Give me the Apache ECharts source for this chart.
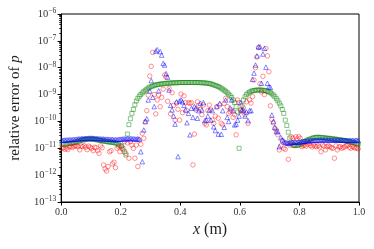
<!DOCTYPE html>
<html><head><meta charset="utf-8">
<script src="https://cdn.jsdelivr.net/npm/echarts@6/dist/echarts.min.js"></script>
<style>html,body{margin:0;padding:0;background:#fff}#c{width:374px;height:249px}</style>
</head><body><div id="c"></div>
<script>
// Cell-centre grid: 200 cells on [0, 1]
const nCells = 200;
const xTicks = [0.0, 0.2, 0.4, 0.6, 0.8, 1.0];
const yDecades = [-13, -12, -11, -10, -9, -8, -7, -6];

// Values, stored as log10(relative error)
const greenLog10 = [
-10.85,-10.85,-10.85,-10.84,-10.83,-10.82,-10.81,-10.80,-10.79,-10.78,
-10.76,-10.74,-10.72,-10.70,-10.69,-10.68,-10.67,-10.66,-10.66,-10.66,
-10.66,-10.66,-10.67,-10.68,-10.69,-10.70,-10.71,-10.72,-10.73,-10.74,
-10.75,-10.76,-10.77,-10.77,-10.78,-10.79,-10.80,-10.82,-10.85,-10.90,
-10.92,-11.00,-11.13,-11.25,-10.47,-10.12,-9.90,-9.70,-9.55,-9.38,
-9.24,-9.14,-9.06,-9.00,-8.94,-8.89,-8.84,-8.80,-8.76,-8.73,
-8.70,-8.68,-8.66,-8.64,-8.63,-8.62,-8.61,-8.60,-8.60,-8.59,
-8.58,-8.58,-8.57,-8.57,-8.57,-8.56,-8.56,-8.56,-8.56,-8.55,
-8.55,-8.55,-8.55,-8.55,-8.55,-8.55,-8.55,-8.55,-8.55,-8.55,
-8.55,-8.55,-8.55,-8.56,-8.56,-8.56,-8.57,-8.57,-8.58,-8.59,
-8.60,-8.62,-8.64,-8.66,-8.68,-8.70,-8.73,-8.76,-8.80,-8.84,
-8.88,-8.93,-8.98,-9.04,-9.11,-9.20,-9.30,-9.45,-9.65,-11.00,
-9.60,-9.40,-9.20,-9.08,-9.00,-8.95,-8.91,-8.88,-8.86,-8.85,
-8.84,-8.83,-8.83,-8.83,-8.83,-8.84,-8.85,-8.86,-8.88,-8.90,
-8.93,-8.97,-9.02,-9.08,-9.15,-9.23,-9.32,-9.42,-9.55,-9.70,
-9.95,-10.15,-10.40,-10.62,-10.80,-10.88,-10.90,-10.90,-10.89,-10.88,
-10.86,-10.83,-10.79,-10.75,-10.72,-10.69,-10.67,-10.65,-10.63,-10.61,
-10.60,-10.59,-10.59,-10.59,-10.60,-10.60,-10.61,-10.62,-10.62,-10.63,
-10.63,-10.64,-10.65,-10.66,-10.66,-10.67,-10.68,-10.69,-10.70,-10.71,
-10.72,-10.73,-10.74,-10.76,-10.77,-10.78,-10.80,-10.81,-10.83,-10.84
];

const redLog10 = [
-11.00,-10.98,-11.04,-11.00,-11.05,-10.95,-10.92,-10.97,-10.93,-10.91,
-10.91,-10.94,-11.06,-10.92,-10.94,-10.90,-10.96,-11.05,-10.92,-10.96,
-11.00,-11.09,-10.96,-10.98,-11.09,-11.19,-10.91,-10.98,-11.62,-11.77,
-11.85,-11.68,-11.13,-11.09,-11.58,-11.52,-11.72,-11.00,-10.94,-11.13,
-10.94,-11.05,-10.75,-11.19,-10.80,-11.37,-10.75,-10.88,-11.00,-11.37,
-10.88,-11.68,-10.69,-10.85,-10.44,-10.63,-10.02,-9.60,-9.02,-8.31,
-7.95,-7.43,-9.00,-9.72,-9.20,-9.02,-9.45,-9.10,-8.80,-8.27,
-8.35,-9.25,-8.77,-9.72,-8.93,-9.40,-9.95,-9.32,-9.55,-9.95,
-8.98,-9.67,-9.05,-9.30,-9.60,-9.30,-9.33,-9.30,-11.62,-10.47,
-9.57,-9.27,-9.40,-9.55,-9.75,-9.39,-10.07,-10.13,-9.60,-9.39,
-9.57,-9.95,-10.07,-9.80,-9.45,-9.88,-9.39,-10.07,-10.13,-9.33,
-9.14,-9.45,-9.70,-9.64,-9.57,-9.85,-9.75,-10.50,-9.20,-9.30,
-9.57,-9.64,-9.50,-9.75,-9.27,-10.07,-9.20,-9.32,-9.08,-8.46,
-8.00,-7.60,-7.25,-8.60,-8.90,-8.32,-9.00,-7.28,-7.56,-8.15,
-9.42,-9.92,-10.05,-10.26,-10.32,-10.50,-11.06,-10.91,-10.70,-11.00,
-11.04,-10.81,-11.41,-10.88,-10.57,-10.62,-10.88,-10.57,-10.65,-10.57,
-10.63,-10.94,-10.90,-10.88,-10.92,-10.85,-10.81,-10.90,-10.95,-10.88,
-10.92,-10.94,-10.90,-10.95,-11.13,-10.88,-10.92,-11.06,-10.94,-10.90,
-10.94,-10.98,-11.00,-11.37,-10.91,-11.06,-10.95,-10.94,-11.00,-10.97,
-10.94,-10.90,-10.88,-10.96,-11.00,-10.93,-10.96,-11.00,-10.98,-11.02
];

const blueLog10 = [
-10.70,-10.70,-10.69,-10.69,-10.69,-10.68,-10.68,-10.68,-10.67,-10.67,
-10.66,-10.65,-10.65,-10.64,-10.64,-10.63,-10.63,-10.63,-10.62,-10.62,
-10.62,-10.62,-10.63,-10.63,-10.64,-10.64,-10.65,-10.65,-10.65,-10.66,
-10.66,-10.66,-10.67,-10.67,-10.67,-10.68,-10.68,-10.68,-10.67,-10.66,
-10.66,-10.65,-10.65,-10.65,-10.64,-10.64,-10.64,-10.64,-10.65,-10.65,
-10.66,-10.64,-10.66,-11.13,-11.50,-10.32,-10.00,-9.90,-9.20,-8.87,
-8.48,-9.10,-9.45,-7.38,-7.33,-8.86,-7.40,-7.53,-7.84,-7.90,
-8.22,-8.35,-8.83,-9.40,-9.57,-9.80,-10.10,-9.27,-11.31,-9.24,
-9.20,-9.27,-9.40,-9.57,-10.05,-9.70,-10.50,-9.51,-9.85,-9.45,
-9.50,-9.88,-9.60,-9.32,-9.57,-9.30,-9.97,-9.95,-9.80,-9.57,
-9.95,-9.60,-10.20,-10.34,-9.45,-10.47,-9.33,-10.48,-9.60,-10.22,
-9.20,-9.85,-10.00,-9.50,-9.20,-9.60,-10.13,-10.10,-9.95,-9.80,
-9.30,-9.57,-9.57,-9.80,-9.65,-9.97,-9.60,-9.60,-8.43,-8.20,
-7.90,-7.56,-7.22,-7.22,-8.58,-7.49,-7.28,-7.98,-8.58,-8.71,
-8.73,-9.76,-10.00,-10.22,-10.38,-10.38,-10.94,-10.60,-10.69,-10.75,
-10.78,-10.80,-10.81,-10.80,-10.79,-10.78,-10.77,-10.77,-10.78,-10.78,
-10.76,-10.75,-10.74,-10.74,-10.73,-10.72,-10.72,-10.71,-10.71,-10.70,
-10.70,-10.70,-10.70,-10.69,-10.69,-10.69,-10.69,-10.69,-10.69,-10.69,
-10.69,-10.69,-10.70,-10.69,-10.70,-10.69,-10.70,-10.70,-10.69,-10.70,
-10.70,-10.70,-10.71,-10.70,-10.71,-10.70,-10.71,-10.71,-10.70,-10.71
];

function toPoints(logs) {
  return logs.map((e, i) => [(i + 0.5) / nCells, Math.pow(10, e)]);
}

const minorValues = [];
for (let d = -13; d < -6; d++) {
  for (let k = 2; k <= 9; k++) minorValues.push(k * Math.pow(10, d));
}

const FONT = 'Liberation Serif';
const chart = echarts.init(document.getElementById('c'), null, {renderer: 'canvas'});

function hollow(symbol, size, color) {
  return {
    type: 'scatter', symbol: symbol, symbolSize: size,
    itemStyle: {color: 'rgba(0,0,0,0)', borderColor: color, borderWidth: 0.9},
    animation: false, silent: true
  };
}

const option = {
  animation: false,
  grid: {left: 58, right: 15, top: 14, bottom: 47, show: true, borderColor: '#000', borderWidth: 1, backgroundColor: 'transparent'},
  xAxis: {
    type: 'value', min: 0, max: 1, interval: 0.2,
    axisLine: {lineStyle: {color: '#000', width: 1}},
    axisTick: {show: true, inside: false, length: 3.5, lineStyle: {color: '#000'}},
    splitLine: {show: false},
    axisLabel: {fontFamily: FONT, fontSize: 10, color: '#333', margin: 5, formatter: v => v.toFixed(1)},
    name: '{i|x} (m)', nameLocation: 'middle', nameGap: 14,
    nameTextStyle: {fontFamily: FONT, fontSize: 16, color: '#222', rich: {i: {fontFamily: FONT, fontStyle: 'italic', fontSize: 16, color: '#222'}}}
  },
  yAxis: [{
    type: 'log', min: 1e-13, max: 1e-6, logBase: 10, interval: 1,
    axisLine: {lineStyle: {color: '#000', width: 1}},
    axisTick: {show: true, inside: false, length: 3.5, lineStyle: {color: '#000'}},
    splitLine: {show: false},
    axisLabel: {
      margin: 5,
      formatter: v => '{b|10}{s|\u2212' + Math.abs(Math.round(Math.log10(v))) + '}',
      rich: {
        b: {fontFamily: FONT, fontSize: 10.5, color: '#333', lineHeight: 14},
        s: {fontFamily: FONT, fontSize: 7.5, color: '#333', lineHeight: 8, verticalAlign: 'top'}
      }
    },
    name: 'relative error of {i|p}', nameLocation: 'middle', nameGap: 33, nameRotate: 90,
    nameTextStyle: {fontFamily: FONT, fontSize: 15, color: '#222', rich: {i: {fontFamily: FONT, fontStyle: 'italic', fontSize: 15, color: '#222'}}}
  }, {
    type: 'log', min: 1e-13, max: 1e-6, logBase: 10, position: 'left',
    axisLine: {show: false},
    axisTick: {show: true, inside: false, length: 2, customValues: minorValues, lineStyle: {color: '#000', width: 0.8}},
    axisLabel: {show: false},
    splitLine: {show: false}
  }],
  series: [
    Object.assign(hollow('rect', 4, 'rgba(0,128,0,0.65)'), {data: toPoints(greenLog10), z: 2}),
    Object.assign(hollow('circle', 4.5, 'rgba(255,0,0,0.6)'), {data: toPoints(redLog10), z: 3}),
    Object.assign(hollow('triangle', 4.5, 'rgba(0,0,255,0.68)'), {data: toPoints(blueLog10), z: 4})
  ]
};
chart.setOption(option);
</script>
</body></html>
